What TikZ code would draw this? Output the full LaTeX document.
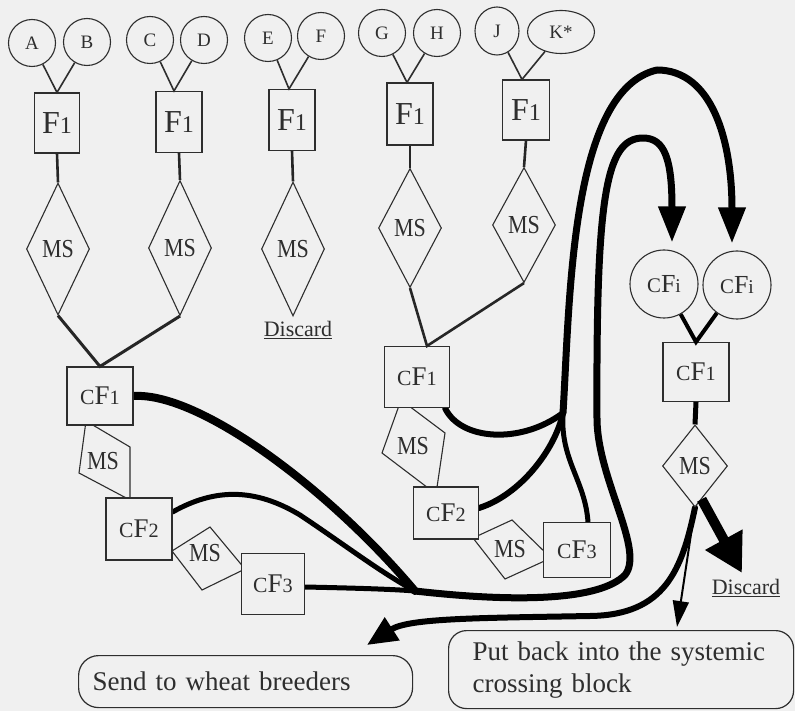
\documentclass[tikz,border=0pt]{standalone}
\usepackage{fontspec}
\setmainfont{Liberation Serif}
\usepackage{graphicx}
\usetikzlibrary{shapes.geometric,arrows.meta,calc}
\definecolor{bg}{gray}{0.94}
\definecolor{ink}{gray}{0.18}
\newcommand{\smdig}[1]{\scalebox{0.75}{#1}}
\newcommand{\Fl}{F\smdig{1}}
\newcommand{\cF}[1]{\scalebox{0.8}{C}F\smdig{#1}}
\newcommand{\MSt}{\scalebox{1}[1.18]{MS}}
\pgfdeclarelayer{back}
\pgfsetlayers{back,main}
\begin{document}
\begin{tikzpicture}[x=1pt,y=-1pt,
  every node/.style={inner sep=0pt, text=ink},
  circ/.style={draw=ink, line width=1.1pt, circle, minimum size=47pt, fill=bg, font=\fontsize{19}{19}\selectfont},
  fbox/.style={draw=ink, line width=1.1pt, fill=bg, minimum width=46pt, minimum height=61pt, font=\fontsize{32}{32}\selectfont},
  cbox/.style={draw=ink, line width=1.1pt, fill=bg, font=\fontsize{27}{27}\selectfont},
  msd/.style={draw=ink, line width=1.1pt, diamond, fill=bg, font=\fontsize{22}{22}\selectfont, minimum width=63pt},
  tms/.style={draw=ink, line width=1.1pt, fill=bg, line join=miter},
  mslab/.style={font=\fontsize{22}{22}\selectfont},
  thin/.style={draw=ink, line width=1.6pt},
  stem/.style={draw=black!85, line width=2.6pt},
  flow/.style={draw=black, line width=7pt, line cap=round, line join=round},
  bigtip/.style={-{Triangle[width=26pt,length=36pt]}},
  outbox/.style={draw=ink, line width=1.2pt, fill=bg, anchor=north west, align=left, font=\fontsize{27}{32}\selectfont}
]
\useasboundingbox (0,0) rectangle (795,711);
\begin{pgfonlayer}{back}
\fill[bg] (0,0) rectangle (795,711);
\end{pgfonlayer}

% tilted MS shapes (partly hidden behind boxes)
\draw[tms] (86,421) -- (130,447) -- (130,500) -- (79,473) -- cycle;
\draw[tms] (172,551) -- (210,527) -- (245,569) -- (202,590) -- cycle;
\draw[tms] (401,400) -- (445,433) -- (436,494) -- (382,453) -- cycle;
\draw[tms] (473,538) -- (512,520) -- (551,558) -- (505,579) -- cycle;
\node[mslab] (msL1) at (103,461) {\MSt};
\node[mslab] (msL2) at (205,553) {\MSt};
\node[mslab] (msM1) at (413,446) {\MSt};
\node[mslab] (msM2) at (510,549) {\MSt};

% parent circles
\node[circ] (A) at (32,43) {A};
\node[circ] (B) at (87,42) {B};
\node[circ] (C) at (150,40) {C};
\node[circ] (D) at (204,40) {D};
\node[circ] (E) at (268,38) {E};
\node[circ] (F) at (321,36) {F};
\node[circ] (G) at (382,33) {G};
\node[circ] (H) at (437,33) {H};
\node[circ, ellipse, minimum width=44pt, minimum height=48pt] (J) at (497,31) {J};
\node[circ, ellipse, minimum width=67pt, minimum height=43pt] (K) at (561,32) {K*};

% F1 boxes
\node[fbox, minimum width=45pt, minimum height=60pt] (F1a) at (57,123) {\Fl};
\node[fbox] (F1b) at (179,122) {\Fl};
\node[fbox] (F1c) at (292,120) {\Fl};
\node[fbox, minimum height=62pt] (F1d) at (410,114) {\Fl};
\node[fbox, minimum width=47pt, minimum height=60pt] (F1e) at (526,110) {\Fl};

% MS diamonds
\node[msd, minimum height=132pt] (D1) at (58,249) {\MSt};
\node[msd, minimum height=135pt] (D2) at (180,248) {\MSt};
\node[msd, minimum height=134pt] (D3) at (293,249) {\MSt};
\node[msd, minimum height=119pt] (D4) at (410,228) {\MSt};
\node[msd, minimum height=115pt] (D5) at (524,225) {\MSt};
\node[msd, minimum width=65pt, minimum height=82pt] (DR) at (695,466) {\MSt};

% cF boxes
\node[cbox, minimum width=66pt, minimum height=58pt] (cF1L) at (100,396) {\cF{1}};
\node[cbox, minimum width=66pt, minimum height=62pt] (cF2L) at (139,529) {\cF{2}};
\node[cbox, minimum width=63pt, minimum height=61pt] (cF3L) at (273,584) {\cF{3}};
\node[cbox, minimum width=65pt, minimum height=61pt] (cF1M) at (417,377) {\cF{1}};
\node[cbox, minimum width=65pt, minimum height=52pt] (cF2M) at (446,513) {\cF{2}};
\node[cbox, minimum width=67pt, minimum height=55pt] (cF3M) at (577,550) {\cF{3}};
\node[cbox, minimum width=66pt, minimum height=59pt] (cF1R) at (696,372) {\cF{1}};
\node[circ, minimum size=68pt, font=\fontsize{26}{26}\selectfont] (cFiL) at (664,284) {\cF{i}};
\node[circ, minimum size=68pt, font=\fontsize{26}{26}\selectfont] (cFiR) at (737,285) {\cF{i}};

% labels and output boxes
\node[font=\fontsize{22}{22}\selectfont] (discL) at (298,330) {\underline{Discard}};
\node[font=\fontsize{22}{22}\selectfont] (discR) at (746,588) {\underline{Discard}};
\node[outbox, rounded corners=20pt, minimum width=334pt, minimum height=52pt, inner xsep=14pt, text width=306pt] (send) at (78,655) {Send to wheat breeders};
\node[outbox, rounded corners=18pt, minimum width=345pt, minimum height=78pt, inner xsep=24pt, text width=297pt] (putback) at (448,630) {Put back into the systemic\\crossing block};

% thin connectors from parents
\draw[thin] (A) -- (F1a.north) -- (B);
\draw[thin] (C) -- ([xshift=-5pt]F1b.north) -- (D);
\draw[thin] (E) -- ([xshift=-3pt]F1c.north) -- (F);
\draw[thin] (G) -- ([xshift=-3pt]F1d.north) -- (H);
\draw[thin] (J) -- ([xshift=-4pt]F1e.north) -- (K);

% stems
\draw[stem] (F1a.south) -- (D1.north);
\draw[stem] (F1b.south) -- (D2.north);
\draw[stem] (F1c.south) -- (D3.north);
\draw[stem] (F1d.south) -- (D4.north);
\draw[stem] (F1e.south) -- (D5.north);
\draw[stem, line width=3pt] (D1.south) -- (cF1L.north) -- (D2.south);
\draw[stem] (D4.south) -- ([xshift=10pt]cF1M.north) -- (D5.south);
\draw[black, line width=4pt] (cFiL) -- (cF1R.north) -- (cFiR);
\draw[black, line width=5pt] (cF1R.south) -- (DR.north);

\coordinate (conv) at (415,591);
\coordinate (mconv) at (563,413);
\coordinate (sendtip) at (367,645);
\coordinate (disctip) at (742,573);
\coordinate (thintip) at (677,627);

\begin{pgfonlayer}{back}
% left group
\draw[flow, line width=8pt] (cF1L.east) .. controls (200,392) and (330,490) .. (conv);
\draw[flow, line width=5pt] ($(cF2L.east)+(0,-17)$) .. controls (215,488) and (255,488) .. (300,515) .. controls (345,545) and (380,572) .. (conv);
\draw[flow, line width=5pt] ($(cF3L.east)+(0,3)$) .. controls (350,588) and (390,589) .. (conv);
\draw[flow, bigtip] (conv) .. controls (520,603) and (600,600) .. (625,575) .. controls (645,550) and (598,480) .. (597,420) .. controls (596,200) and (605,138) .. (643,138) .. controls (665,138) and (672,160) .. ($(cFiL.north)+(8,-7)$);
% middle group
\draw[flow, line width=6pt] ($(cF1M.south east)+(-5,0)$) .. controls (460,440) and (520,445) .. (mconv);
\draw[flow, line width=6pt] ($(cF2M.east)+(0,-5)$) .. controls (520,495) and (555,450) .. (mconv);
\draw[flow, line width=5pt] ($(cF3M.north)+(11,0)$) .. controls (585,480) and (560,460) .. (mconv);
\draw[flow, bigtip] (mconv) .. controls (570,300) and (570,90) .. (657,70) .. controls (712,70) and (732,140) .. ($(cFiR.north)+(-5,-7)$);
% outputs of the right selection
\draw[flow, line width=6pt, -{Triangle[width=26pt,length=30pt]}] (DR.south) .. controls (682,570) and (665,615) .. (590,616) .. controls (480,618) and (409,618) .. (sendtip);
\end{pgfonlayer}
\draw[black, line width=10pt, -{Triangle[width=40pt,length=38pt]}] ($(DR.south)!0.2!(DR.east)$) -- (disctip);
\draw[black, line width=2pt, -{Triangle[width=16pt,length=26pt]}] (DR.south) -- (thintip);
\end{tikzpicture}
\end{document}
